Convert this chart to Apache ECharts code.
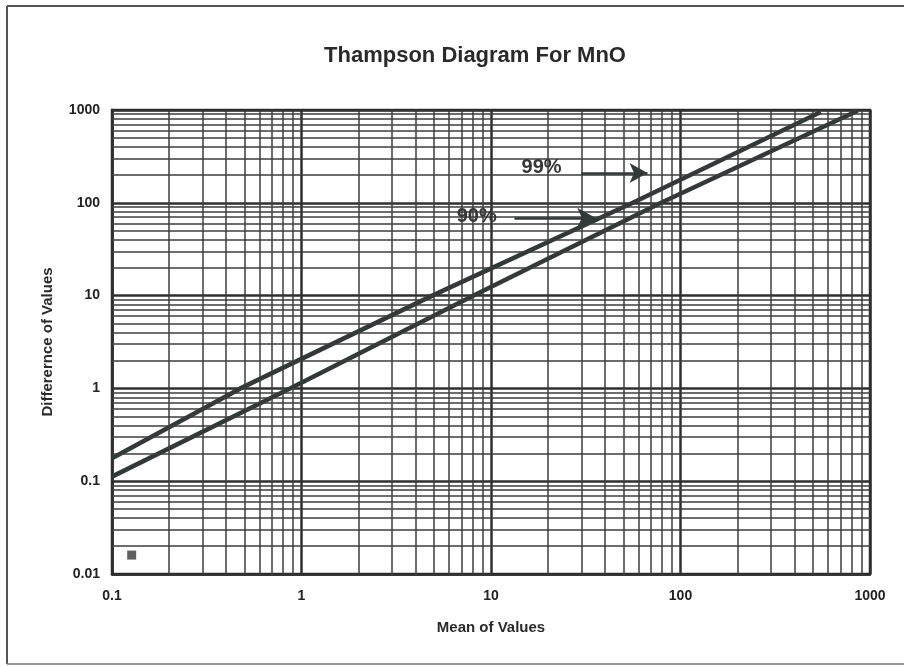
<!DOCTYPE html>
<html>
<head>
<meta charset="utf-8">
<script src="https://cdn.jsdelivr.net/npm/echarts@6/dist/echarts.min.js"></script>
<style>
  html, body { margin: 0; padding: 0; background: #ffffff; }
  #chart { width: 904px; height: 666px; }
</style>
</head>
<body>
<div id="chart"></div>
<script>
// ---- data ----
const titleText = 'Thampson Diagram For MnO';
const xName = 'Mean of Values';
const yName = 'Differernce of Values';

// 99% control line (mean, difference)
const line99 = [[0.1, 0.177], [0.476, 1], [4.9, 10], [56, 100], [550, 950]];
// 90% control line (mean, difference)
const line90 = [[0.1, 0.112], [0.87, 1], [8.1, 10], [79, 100], [860, 980]];
// single plotted sample
const samplePoints = [[0.127, 0.016]];

// annotations
const arrow99 = [[30, 210], [67, 210]];
const arrow90 = [[13.3, 69], [35.5, 69]];
const label99 = { name: '99%', coord: [18.5, 239] };
const label90 = { name: '90%', coord: [8.4, 70.6] };

// axis ranges / log-paper ticks
const xDecades = [0.1, 1, 10, 100];
const yDecades = [0.01, 0.1, 1, 10, 100];
const minorMultipliers = [2, 3, 4, 5, 6, 7, 8, 9];
const xMin = 0.1, xMax = 1000, yMin = 0.01, yMax = 1000;

// ---- build minor grid lines from tick arrays ----
function minorValues(decades) {
  const out = [];
  decades.forEach(d => minorMultipliers.forEach(m => out.push(+(d * m).toPrecision(6))));
  return out;
}
const xMinor = minorValues(xDecades);
const yMinor = minorValues(yDecades);

const gridLineData = []
  .concat(xMinor.map(v => ({ xAxis: v })))
  .concat(yMinor.map(v => ({ yAxis: v })));

const ink = '#2f2f2f';
const fontFam = '"Liberation Sans", Arial, sans-serif';
const fmt = v => String(+(+v).toPrecision(6));

const chart = echarts.init(document.getElementById('chart'), null, { renderer: 'canvas' });
chart.setOption({
  animation: false,
  backgroundColor: '#ffffff',
  title: {
    text: titleText,
    left: 470,
    top: 40,
    textAlign: 'center',
    textStyle: { fontFamily: fontFam, fontSize: 22, fontWeight: 'bold', color: '#2a2a2a' }
  },
  graphic: [
    { type: 'line', shape: { x1: 7, y1: 6, x2: 7, y2: 664 }, style: { stroke: '#555', lineWidth: 2 } },
    { type: 'line', shape: { x1: 7, y1: 6, x2: 904, y2: 6 }, style: { stroke: '#555', lineWidth: 2 } },
    { type: 'line', shape: { x1: 7, y1: 664, x2: 904, y2: 664 }, style: { stroke: '#777', lineWidth: 1.5 } }
  ],
  grid: {
    left: 112, right: 34, top: 110, bottom: 92,
    show: true, borderColor: ink, borderWidth: 2.5, backgroundColor: 'transparent'
  },
  xAxis: {
    type: 'log', logBase: 10, min: xMin, max: xMax,
    name: xName, nameLocation: 'middle', nameGap: 46,
    nameTextStyle: { fontFamily: fontFam, fontSize: 15, fontWeight: 'bold', color: '#2a2a2a' },
    axisLine: { show: true, lineStyle: { color: ink, width: 2.5 } },
    axisTick: { show: false },
    axisLabel: { margin: 15, formatter: fmt, fontFamily: fontFam, fontSize: 14, fontWeight: 'bold', color: '#222' },
    splitLine: { show: true, lineStyle: { color: ink, width: 2.5 } }
  },
  yAxis: {
    type: 'log', logBase: 10, min: yMin, max: yMax,
    name: yName, nameLocation: 'middle', nameGap: 57, nameRotate: 90,
    nameTextStyle: { fontFamily: fontFam, fontSize: 15, fontWeight: 'bold', color: '#2a2a2a' },
    axisLine: { show: true, lineStyle: { color: ink, width: 2.5 } },
    axisTick: { show: false },
    axisLabel: { margin: 12, formatter: fmt, fontFamily: fontFam, fontSize: 14, fontWeight: 'bold', color: '#222' },
    splitLine: { show: true, lineStyle: { color: ink, width: 2.5 } }
  },
  series: [
    {
      name: 'grid', type: 'line', data: [], z: 1, silent: true,
      markLine: {
        silent: true, symbol: ['none', 'none'], animation: false,
        label: { show: false },
        lineStyle: { color: '#3c3c3c', width: 1.5, type: 'solid' },
        emphasis: { disabled: true },
        data: gridLineData
      }
    },
    {
      name: '99%', type: 'line', data: line99, z: 3, symbol: 'none', silent: true,
      lineStyle: { color: '#333939', width: 4.5 },
      markLine: {
        silent: true, symbol: ['none', 'arrow'], symbolSize: [15, 18], animation: false,
        label: { show: false },
        lineStyle: { color: '#333939', width: 2.5, type: 'solid' },
        data: [[{ coord: arrow99[0] }, { coord: arrow99[1] }]]
      },
      markPoint: {
        symbol: 'circle', symbolSize: 0, silent: true,
        label: { show: true, formatter: '{b}', fontFamily: fontFam, fontSize: 20, fontWeight: 'bold', color: '#363636' },
        data: [label99]
      }
    },
    {
      name: '90%', type: 'line', data: line90, z: 3, symbol: 'none', silent: true,
      lineStyle: { color: '#333939', width: 4.5 },
      markLine: {
        silent: true, symbol: ['none', 'arrow'], symbolSize: [15, 18], animation: false,
        label: { show: false },
        lineStyle: { color: '#333939', width: 2.5, type: 'solid' },
        data: [[{ coord: arrow90[0] }, { coord: arrow90[1] }]]
      },
      markPoint: {
        symbol: 'circle', symbolSize: 0, silent: true,
        label: { show: true, formatter: '{b}', fontFamily: fontFam, fontSize: 20, fontWeight: 'bold', color: '#363636' },
        data: [label90]
      }
    },
    {
      name: 'sample', type: 'scatter', data: samplePoints, z: 4,
      symbol: 'rect', symbolSize: 9, itemStyle: { color: '#3a3a3a' }
    }
  ]
});
</script>
</body>
</html>
